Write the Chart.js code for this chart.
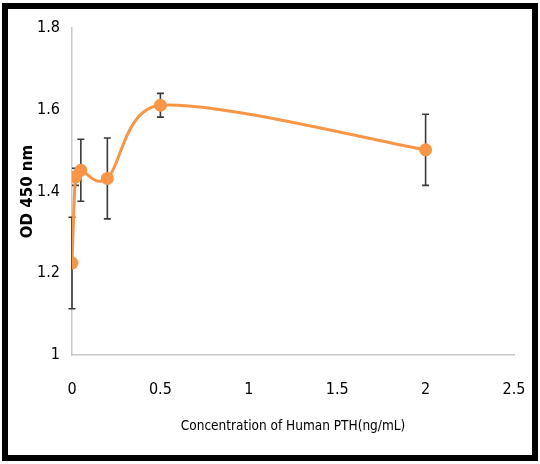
<!DOCTYPE html>
<html>
<head>
<meta charset="utf-8">
<script src="https://cdn.jsdelivr.net/npm/chart.js@4/dist/chart.umd.min.js"></script>
<style>
  html, body { margin: 0; padding: 0; background: #fff; }
  #wrap { position: relative; width: 540px; height: 464px; }
  #c { position: absolute; left: 0; top: 0; }
  #frame { position: absolute; left: 2px; top: 3px; width: 524px; height: 446px;
           border: 6px solid #000; pointer-events: none; }
</style>
</head>
<body>
<div id="wrap">
  <canvas id="c" width="540" height="464"></canvas>
  <div id="frame"></div>
</div>
<script>
// ---- data ----
const concentration = [0, 0.02, 0.05, 0.2, 0.5, 2];
const od450 = [1.225, 1.436, 1.452, 1.432, 1.611, 1.502];
const errors = [0.112, 0.021, 0.076, 0.099, 0.029, 0.087];
const xTickValues = [0, 0.5, 1, 1.5, 2, 2.5];
const xTickLabels = ['0', '0.5', '1', '1.5', '2', '2.5'];
const yTickValues = [1, 1.2, 1.4, 1.6, 1.8];
const yTickLabels = ['1', '1.2', '1.4', '1.6', '1.8'];
const xTitle = 'Concentration of Human PTH(ng/mL)';
const yTitle = 'OD 450 nm';

const points = concentration.map((x, i) => ({ x: x, y: od450[i] }));

// Spreadsheet-style smoothing: Catmull-Rom tangents (chord/6), limited to half the segment,
// computed in a space with the vertical axis compressed (aspect factor k), then mapped back.
const smoothPlugin = {
  id: 'smoothCurve',
  beforeDatasetsDraw(chart) {
    const k = 0.667;
    const meta = chart.getDatasetMeta(0);
    const line = meta.dataset;
    line.updateControlPoints(chart.chartArea, 'x');
    const pts = meta.data;
    const n = pts.length;
    for (let i = 0; i < n; i++) {
      const p = pts[i];
      const prev = pts[Math.max(i - 1, 0)];
      const next = pts[Math.min(i + 1, n - 1)];
      const tx = (next.x - prev.x) / 6, ty = (next.y - prev.y) * k / 6;
      const tl = Math.hypot(tx, ty);
      const dIn = i > 0 ? Math.hypot(p.x - prev.x, (p.y - prev.y) * k) / 2 : 0;
      const sIn = tl > dIn && tl > 0 ? dIn / tl : 1;
      p.cp1x = p.x - tx * sIn; p.cp1y = p.y - ty * sIn / k;
      const dOut = i < n - 1 ? Math.hypot(next.x - p.x, (next.y - p.y) * k) / 2 : 0;
      const sOut = tl > dOut && tl > 0 ? dOut / tl : 1;
      p.cp2x = p.x + tx * sOut; p.cp2y = p.y + ty * sOut / k;
    }
    line._path = undefined;
  }
};

const errorBarPlugin = {
  id: 'errorBars',
  beforeDatasetsDraw(chart) {
    const ctx = chart.ctx;
    const xs = chart.scales.x, ys = chart.scales.y;
    ctx.save();
    ctx.strokeStyle = '#3a3a3a';
    ctx.lineWidth = 1.6;
    const cap = 3.5;
    concentration.forEach((x, i) => {
      const px = xs.getPixelForValue(x);
      const top = ys.getPixelForValue(od450[i] + errors[i]);
      const bot = ys.getPixelForValue(od450[i] - errors[i]);
      ctx.beginPath();
      ctx.moveTo(px, top); ctx.lineTo(px, bot);
      ctx.moveTo(px - cap, top); ctx.lineTo(px + cap, top);
      ctx.moveTo(px - cap, bot); ctx.lineTo(px + cap, bot);
      ctx.stroke();
    });
    ctx.restore();
  }
};

const tickFont = { family: '"Liberation Sans Narrow", "DejaVu Sans Condensed", sans-serif', size: 16 };

new Chart(document.getElementById('c'), {
  type: 'line',
  data: {
    datasets: [{
      data: points,
      borderColor: '#F79646',
      backgroundColor: '#F79646',
      borderWidth: 3,
      pointRadius: 5,
      pointHoverRadius: 5,
      pointBackgroundColor: '#F79646',
      pointBorderColor: '#F79646',
      tension: 0.5,
      fill: false
    }]
  },
  options: {
    responsive: false,
    animation: false,
    events: [],
    layout: { padding: { left: 19, right: 26, top: 28, bottom: 29 } },
    plugins: { legend: { display: false }, tooltip: { enabled: false } },
    scales: {
      x: {
        type: 'linear',
        min: 0, max: 2.5,
        afterBuildTicks(scale) { scale.ticks = xTickValues.map(v => ({ value: v })); },
        afterFit(scale) { scale.height = 80; },
        grid: { display: false, drawTicks: true, tickLength: 25 },
        border: { display: true, color: '#c8c8c8', width: 1.5 },
        ticks: {
          color: '#000', font: tickFont, padding: 0, maxRotation: 0, autoSkip: false,
          callback(v) { const i = xTickValues.indexOf(v); return i >= 0 ? xTickLabels[i] : ''; }
        },
        title: {
          display: true, text: xTitle, color: '#000', padding: 0,
          font: { family: '"Liberation Sans Narrow", "DejaVu Sans Condensed", sans-serif', size: 13.5 }
        }
      },
      y: {
        type: 'linear',
        min: 1, max: 1.8,
        afterBuildTicks(scale) { scale.ticks = yTickValues.map(v => ({ value: v })); },
        afterFit(scale) { scale.width = 53; },
        grid: { display: false, drawTicks: false },
        border: { display: true, color: '#c8c8c8', width: 1.5 },
        ticks: {
          color: '#000', font: tickFont, padding: 12, autoSkip: false,
          callback(v) { const i = yTickValues.indexOf(v); return i >= 0 ? yTickLabels[i] : ''; }
        },
        title: {
          display: true, text: yTitle, color: '#000', padding: 0,
          font: { family: '"DejaVu Sans", sans-serif', size: 15, weight: 'bold' }
        }
      }
    }
  },
  plugins: [smoothPlugin, errorBarPlugin]
});
</script>
</body>
</html>
